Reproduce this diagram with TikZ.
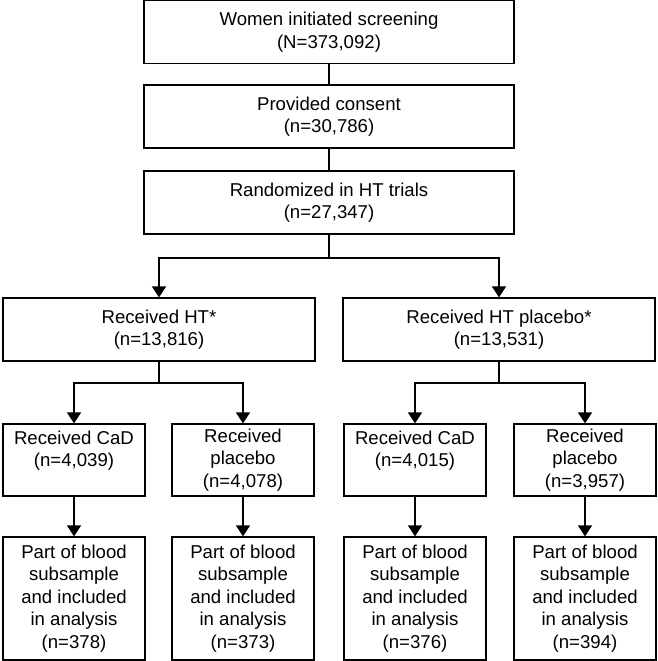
\documentclass[tikz,border=0pt]{standalone}
\usepackage{fontspec}
\setmainfont{Liberation Sans}
\usetikzlibrary{arrows.meta}
\tikzstyle{flowbox} = [
  draw,
  line width=1.2pt,
  align=center,
  inner sep=0pt,
  font=\fontsize{18.6}{22.6}\selectfont,
]
\tikzstyle{wide} = [flowbox, minimum width=370pt, minimum height=63pt]
\tikzstyle{half} = [flowbox, minimum width=312pt, minimum height=63pt]
\tikzstyle{arm} = [flowbox, minimum width=142pt, minimum height=72pt]
\tikzstyle{blood} = [flowbox, minimum width=142pt, minimum height=123pt]
\tikzstyle{link} = [line width=1.2pt]
\tikzstyle{arrow} = [link, -{Triangle[length=11pt,width=14pt]}]

\begin{document}
\begin{tikzpicture}[x=1pt, y=-1pt]
            \useasboundingbox (0,0) rectangle (658,661);

            % Screening steps
            \node[wide] (screen) at (329,32) {Women initiated screening\\(N=373,092)};
            \node[wide] (consent) at (329,116.5) {Provided consent\\(n=30,786)};
            \node[wide] (random) at (329,202.5) {Randomized in HT trials\\(n=27,347)};

            % HT trial arms
            \node[half] (ht) at (159,329.5) {Received HT*\\(n=13,816)};
            \node[half] (htp) at (499,329.5) {Received HT placebo*\\(n=13,531)};

            % CaD trial arms
            \node[arm] (htcad) at (74,460) {Received CaD\\(n=4,039)\\~};
            \node[arm] (htpla) at (243,460) {Received\\placebo\\(n=4,078)};
            \node[arm] (htpcad) at (415,460) {Received CaD\\(n=4,015)\\~};
            \node[arm] (htppla) at (585,460) {Received\\placebo\\(n=3,957)};

            % Blood subsample
            \node[blood] (bhtcad) at (74,598.5) {Part of blood\\subsample\\and included\\in analysis\\(n=378)};
            \node[blood] (bhtpla) at (243,598.5) {Part of blood\\subsample\\and included\\in analysis\\(n=373)};
            \node[blood] (bhtpcad) at (415,598.5) {Part of blood\\subsample\\and included\\in analysis\\(n=376)};
            \node[blood] (bhtppla) at (585,598.5) {Part of blood\\subsample\\and included\\in analysis\\(n=394)};

            % Split points
            \coordinate (split) at (329,258);
            \coordinate (splitht) at (159,383);
            \coordinate (splithtp) at (499,383);

            % Connectors
            \draw[link] (screen) -- (consent);
            \draw[link] (consent) -- (random);
            \draw[link] (random) -- (split);
            \draw[arrow] (split) -| (ht.north);
            \draw[arrow] (split) -| (htp.north);
            \draw[link] (ht) -- (splitht);
            \draw[arrow] (splitht) -| (htcad.north);
            \draw[arrow] (splitht) -| (htpla.north);
            \draw[link] (htp) -- (splithtp);
            \draw[arrow] (splithtp) -| (htpcad.north);
            \draw[arrow] (splithtp) -| (htppla.north);
            \draw[arrow] (htcad) -- (bhtcad);
            \draw[arrow] (htpla) -- (bhtpla);
            \draw[arrow] (htpcad) -- (bhtpcad);
            \draw[arrow] (htppla) -- (bhtppla);
          \end{tikzpicture}
\end{document}
